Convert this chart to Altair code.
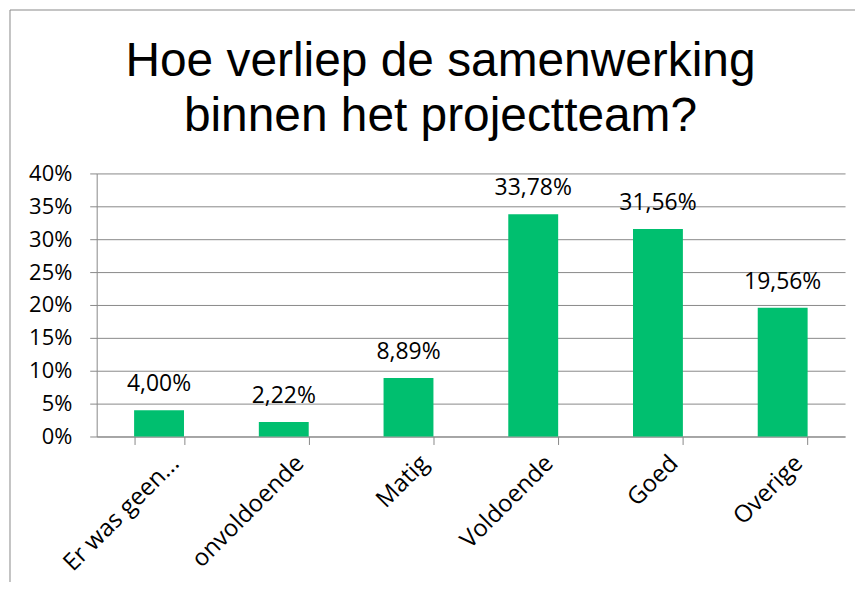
import altair as alt
import pandas as pd

categories = ["Er was geen...", "onvoldoende", "Matig", "Voldoende", "Goed", "Overige"]
values = [4.00, 2.22, 8.89, 33.78, 31.56, 19.56]
y_ticks = [0, 5, 10, 15, 20, 25, 30, 35, 40]
title_lines = ["Hoe verliep de samenwerking", "binnen het projectteam?"]

labels = [f"{v:.2f}".replace(".", ",") + "%" for v in values]
df = pd.DataFrame({"cat": categories, "val": values, "label": labels})

W, H = 751, 264
GRAY = "#898989"
GREEN = "#00BF6F"
FONT = "Open Sans"

x = alt.X(
    "cat:N", sort=categories, title=None,
    scale=alt.Scale(paddingInner=0.6, paddingOuter=0.3),
    axis=alt.Axis(
        tickBand="extent", labelAngle=-45, labelAlign="right", labelBaseline="middle",
        labelOffset=16, labelPadding=15, tickSize=8, tickColor=GRAY, domainColor=GRAY,
        labelFont=FONT, labelFontSize=24, labelColor="black", grid=False,
        labelOverlap=False,
    ),
)
y = alt.Y(
    "val:Q", title=None, scale=alt.Scale(domain=[0, 40]),
    axis=alt.Axis(
        values=y_ticks, labelExpr="datum.value + '%'", grid=True, gridColor=GRAY,
        tickColor=GRAY, tickSize=7, domainColor=GRAY, labelPadding=18,
        labelFont=FONT, labelFontSize=22, labelColor="black", labelOverlap=False,
    ),
)

base = alt.Chart(df).encode(x=x, y=y)
bars = base.mark_bar(color=GREEN)
text = base.mark_text(
    dy=-19, baseline="alphabetic", font=FONT, fontSize=23, color="black"
).encode(text="label:N")

one = alt.Data(values=[{}])
frame_left = alt.Chart(one).mark_rule(color=GRAY, strokeWidth=1).encode(
    x=alt.value(-87), y=alt.value(-164), y2=alt.value(H + 200)
)
frame_top = alt.Chart(one).mark_rule(color=GRAY, strokeWidth=1).encode(
    x=alt.value(-87), x2=alt.value(780), y=alt.value(-164)
)
title = alt.Chart(one).mark_text(
    text=title_lines, font="Liberation Sans", fontSize=48, lineHeight=55,
    baseline="alphabetic", align="center", color="black",
).encode(x=alt.value(345), y=alt.value(-98))

chart = alt.layer(bars, text, frame_left, frame_top, title).properties(
    width=W, height=H,
    autosize=alt.AutoSizeParams(type="none"),
    padding={"left": 89, "top": 165, "right": 10, "bottom": 145},
).configure_view(strokeWidth=0)

chart.save("out.html", embed_options={"renderer": "svg", "actions": False})
